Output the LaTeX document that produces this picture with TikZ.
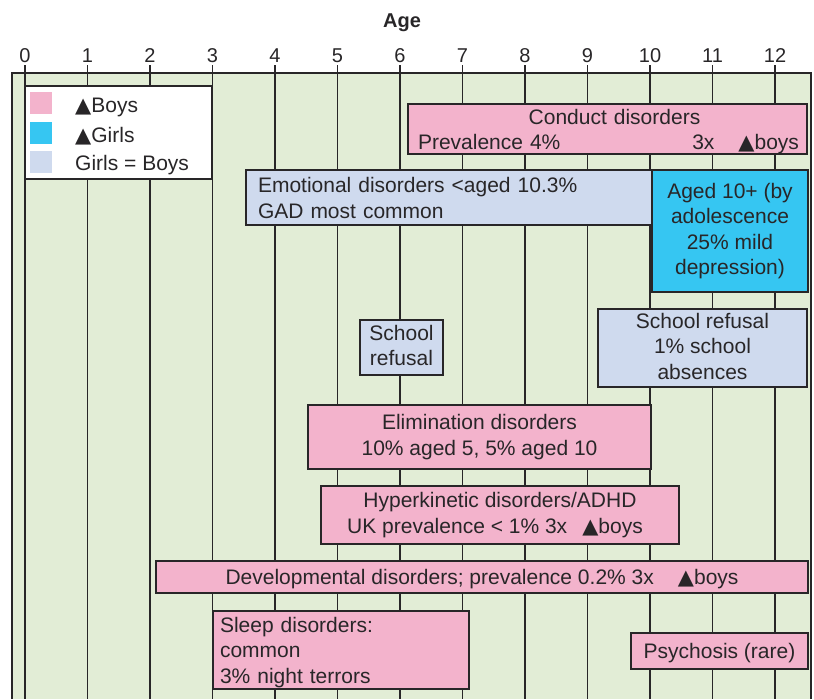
\documentclass[tikz,border=0pt]{standalone}
\usepackage{fontspec}
\setmainfont{Liberation Sans}
\newfontfamily\trifont{DejaVu Sans}
\newcommand\up{{\trifont ▲}}
\definecolor{ink}{RGB}{40,38,40}
\definecolor{boyfill}{RGB}{243,179,204}
\definecolor{girlfill}{RGB}{54,198,242}
\definecolor{evenfill}{RGB}{207,218,238}
\definecolor{chartbg}{RGB}{226,237,214}
\begin{document}
\begin{tikzpicture}[x=1pt,y=-1pt,
  every node/.style={text=ink, font=\fontsize{21}{25.5}\selectfont},
  % fixed first-line height and last-line depth keep every bar's text evenly centred
  bar/.style={draw=ink, line width=1.1pt, inner sep=0pt, align=center,
    execute at begin node={\rule{0pt}{20pt}},
    execute at end node={\rule[-4pt]{0pt}{4pt}}},
  boys/.style={bar, fill=boyfill},
  girls/.style={bar, fill=girlfill},
  even/.style={bar, fill=evenfill},
  swatch/.style={inner sep=0pt, minimum size=22pt},
  grid/.style={draw=ink, line width=1.1pt},
  ticklabel/.style={anchor=base, font=\fontsize{20}{24}\selectfont}]
\useasboundingbox (0,0) rectangle (814,699);

% chart area and age grid
\fill[chartbg] (12,73) rectangle (811,699);
\foreach \a in {0,...,12} {
  \draw[grid] (25+62.5*\a,65) -- (25+62.5*\a,699);
  \node[ticklabel] (tick\a) at (25+62.5*\a,62) {\a};
}
\draw[grid] (12,699) -- (12,73) -- (811,73) -- (811,699);
\node[anchor=base, font=\fontsize{20}{24}\selectfont\bfseries] (agelabel) at (402,27) {Age};

% key
\node[draw=ink, line width=1.1pt, fill=white, minimum width=187pt, minimum height=93pt, inner sep=0pt] (key) at (118.5,132.5) {};
\node[swatch, fill=boyfill] (swboys) at (41,103) {};
\node[swatch, fill=girlfill] (swgirls) at (41,133) {};
\node[swatch, fill=evenfill] (sweven) at (41,162) {};
\node[anchor=base west, inner sep=0pt] (kboys) at (75,112) {\up Boys};
\node[anchor=base west, inner sep=0pt] (kgirls) at (75,142) {\up Girls};
\node[anchor=base west, inner sep=0pt] (keven) at (75,170) {Girls = Boys};

% disorder bars
\node[boys, minimum width=399pt, minimum height=50pt, text width=383pt] (conduct) at (607.5,129)
  {\hspace*{14pt}Conduct disorders\\ \makebox[383pt][s]{\hspace*{2pt}Prevalence 4\%\hfill 3x\hspace{24pt}\up boys}};
\node[even, minimum width=406pt, minimum height=55pt, text width=382pt, inner xsep=12pt, align=left] (emotional) at (449,197.5)
  {Emotional disorders <aged 10.3\%\\GAD most common};
\node[girls, minimum width=156pt, minimum height=122pt] (depression) at (730,231)
  {Aged 10+ (by\\adolescence\\25\% mild\\depression)};
\node[even, minimum width=83pt, minimum height=55pt] (refusalyoung) at (401.5,347.5)
  {School\\refusal};
\node[even, minimum width=209pt, minimum height=78pt] (refusalold) at (702.5,348)
  {School refusal\\1\% school\\absences};
\node[boys, minimum width=343pt, minimum height=64pt] (elimination) at (479.5,437)
  {Elimination disorders\\10\% aged 5, 5\% aged 10};
\node[boys, minimum width=358pt, minimum height=58pt] (adhd) at (500,515)
  {Hyperkinetic disorders/ADHD\\UK prevalence < 1\% 3x\hspace{15pt}\up boys\hspace*{10pt}};
\node[boys, minimum width=652pt, minimum height=32pt] (developmental) at (482,577)
  {Developmental disorders; prevalence 0.2\% 3x\hspace{24pt}\up boys};
\node[boys, minimum width=256pt, minimum height=78pt, text width=242pt, inner xsep=7pt, align=left] (sleep) at (341,650)
  {Sleep disorders:\\common\\3\% night terrors};
\node[boys, minimum width=177pt, minimum height=36pt] (psychosis) at (719.5,651)
  {Psychosis (rare)};
\end{tikzpicture}
\end{document}
